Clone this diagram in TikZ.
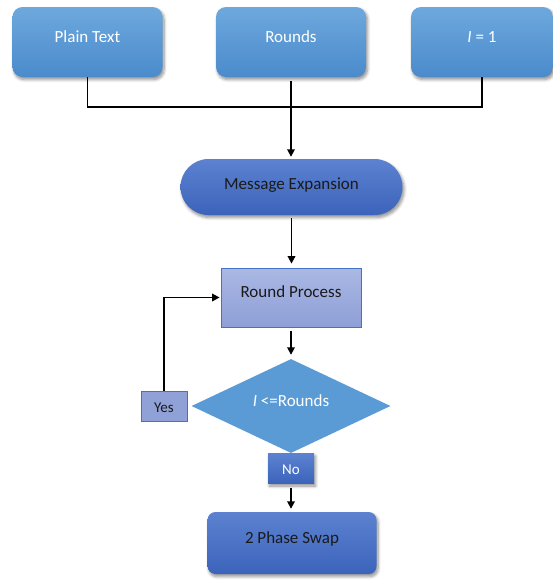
\documentclass[tikz,border=0pt]{standalone}
\usepackage{fontspec}
\setmainfont{Carlito}
\usetikzlibrary{arrows.meta,shapes.geometric,shadows.blur}

\definecolor{topA}{HTML}{6EA8DD}
\definecolor{topB}{HTML}{4A8BCC}
\definecolor{deepA}{HTML}{5C82D0}
\definecolor{deepB}{HTML}{3B63BA}
\definecolor{lavA}{HTML}{AAB8E3}
\definecolor{lavB}{HTML}{8E9FD7}
\definecolor{edge}{HTML}{4472C4}
\definecolor{decfill}{HTML}{5B9BD5}
\definecolor{ink}{HTML}{1A1A1A}

\tikzset{
  base/.style={inner sep=0pt, font=\fontsize{17}{20}\selectfont},
  midline/.style={text height=8pt, text depth=8pt},
  softshadow/.style={blur shadow={shadow xshift=1.5pt, shadow yshift=-2.5pt,
      shadow blur steps=6, shadow blur radius=3pt, shadow opacity=45}},
  inputbox/.style={base, midline, rounded corners=10pt, top color=topA,
      bottom color=topB, minimum width=150pt, minimum height=70pt,
      text=white, softshadow},
  stadium/.style={base, text height=10pt, text depth=6pt, rounded corners=28pt,
      top color=deepA, bottom color=deepB, minimum width=222pt,
      minimum height=56pt, text=ink, softshadow},
  procbox/.style={base, midline, top color=lavA, bottom color=lavB,
      draw=edge, line width=0.8pt, minimum width=140pt, minimum height=59pt,
      text=ink},
  decision/.style={base, midline, diamond, aspect=2, fill=decfill,
      minimum width=199pt, minimum height=94pt, text=white},
  tagbox/.style={base, font=\fontsize{15}{18}\selectfont, text height=12pt,
      text depth=0pt, minimum width=46pt, minimum height=30pt},
  yestag/.style={tagbox, fill=lavB!92!lavA, draw=edge, line width=0.8pt, text=ink},
  notag/.style={tagbox, top color=deepA, bottom color=deepB, text=white, softshadow},
  endbox/.style={base, midline, rounded corners=8pt, top color=deepA,
      bottom color=deepB, minimum width=169pt, minimum height=62pt, text=ink,
      softshadow},
  flow/.style={line width=1.7pt, draw=black},
  arrowflow/.style={flow, -{Triangle[length=7.5pt,width=7.5pt]}},
}

\begin{document}
\begin{tikzpicture}[x=1pt, y=-1pt]
  \useasboundingbox (0,0) rectangle (553,581);

  % inputs
  \node[inputbox] (plain) at (87.5,42) {Plain Text};
  \node[inputbox] (rounds) at (291,42) {Rounds};
  \node[inputbox, minimum width=142pt] (init) at (482,42) {{\itshape I} = 1};

  % main flow
  \node[stadium] (expand) at (291.5,187) {Message Expansion};
  \node[procbox] (round) at (291,297.5) {Round Process};
  \node[decision] (check) at (291,406) {{\itshape I} <=Rounds};
  \node[yestag] (yes) at (164,406) {Yes};
  \node[notag] (no) at (291,468.5) {No};
  \node[endbox] (swap) at (292,543) {2 Phase Swap};

  % merge of the three inputs
  \coordinate (bus) at (90,107);
  \draw[flow] (plain.south) |- (bus) -| (init.south);
  \draw[arrowflow, shorten <=4pt, shorten >=2pt] (rounds.south) -- (rounds.south |- expand.north);

  \draw[arrowflow, shorten <=3pt, shorten >=4pt] (expand.south) -- (expand.south |- round.north);
  \draw[arrowflow, shorten <=4pt, shorten >=4pt] (round.south) -- (check.north);
  \draw[arrowflow, shorten >=1pt] (yes.north) |- (round.west);
  \draw[arrowflow, shorten <=4pt, shorten >=3pt] (no.south) -- (no.south |- swap.north);
\end{tikzpicture}
\end{document}
